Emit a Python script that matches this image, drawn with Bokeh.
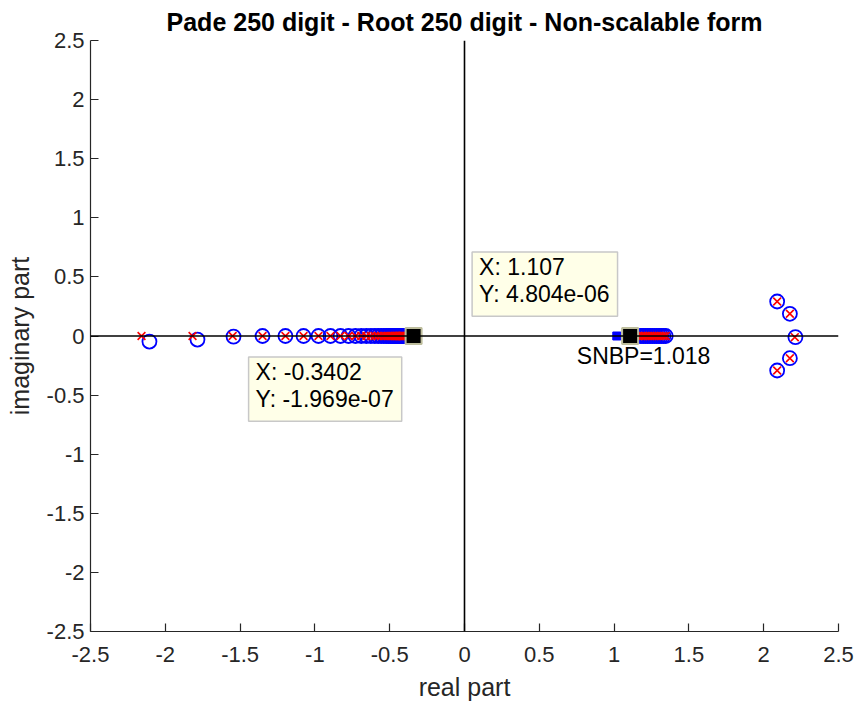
from bokeh.plotting import figure
from bokeh.models import Range1d, FixedTicker, Span, Label
from bokeh.embed import file_html
from bokeh.resources import INLINE

# ---- data ----
zero_re = [-2.106, -1.785, -1.544, -1.350, -1.197, -1.076, -0.976, -0.896, -0.829, -0.775,
           -0.729, -0.690, -0.656, -0.626, -0.600, -0.577, -0.557, -0.539, -0.523, -0.509,
           -0.496, -0.485, -0.475, -0.466, -0.458, -0.451, -0.445, -0.439, -0.434, -0.429,
           -0.425, -0.421, -0.417, -0.414, -0.411, -0.408,
           1.140, 1.160, 1.180, 1.195, 1.210, 1.225, 1.240, 1.255, 1.270, 1.285,
           1.300, 1.315, 1.330, 1.345,
           2.090, 2.175, 2.212, 2.175, 2.090]
zero_im = [-0.047, -0.030, -0.005, 0.000, 0.000, 0.000, 0.000, 0.000, 0.000, 0.000,
           0.000, 0.000, 0.000, 0.000, 0.000, 0.000, 0.000, 0.000, 0.000, 0.000,
           0.000, 0.000, 0.000, 0.000, 0.000, 0.000, 0.000, 0.000, 0.000, 0.000,
           0.000, 0.000, 0.000, 0.000, 0.000, 0.000,
           0.000, 0.000, 0.000, 0.000, 0.000, 0.000, 0.000, 0.000, 0.000, 0.000,
           0.000, 0.000, 0.000, 0.000,
           0.292, 0.188, -0.010, -0.188, -0.292]
pole_re = [-2.159, -1.818, -1.550, -1.350, -1.197, -1.076, -0.976, -0.896, -0.829, -0.775,
           -0.729, -0.690, -0.656, -0.626, -0.600, -0.577, -0.557, -0.539, -0.523, -0.509,
           -0.496, -0.485, -0.475, -0.466, -0.458, -0.451, -0.445, -0.439, -0.434, -0.429,
           -0.425, -0.421, -0.417, -0.414, -0.411, -0.408,
           1.140, 1.160, 1.180, 1.195, 1.210, 1.225, 1.240, 1.255, 1.270, 1.285,
           1.300, 1.315, 1.330, 1.345,
           2.090, 2.175, 2.208, 2.175, 2.090]
pole_im = [0.000, 0.000, 0.000, 0.000, 0.000, 0.000, 0.000, 0.000, 0.000, 0.000,
           0.000, 0.000, 0.000, 0.000, 0.000, 0.000, 0.000, 0.000, 0.000, 0.000,
           0.000, 0.000, 0.000, 0.000, 0.000, 0.000, 0.000, 0.000, 0.000, 0.000,
           0.000, 0.000, 0.000, 0.000, 0.000, 0.000,
           0.000, 0.000, 0.000, 0.000, 0.000, 0.000, 0.000, 0.000, 0.000, 0.000,
           0.000, 0.000, 0.000, 0.000,
           0.292, 0.188, -0.010, -0.188, -0.292]
snbp = 1.018
tip_x = [-0.3402, 1.107]
tip_y = [-1.969e-07, 4.804e-06]
tip_x_text = ["-0.3402", "1.107"]
tip_y_text = ["-1.969e-07", "4.804e-06"]

tick_values = [-2.5, -2.0, -1.5, -1.0, -0.5, 0.0, 0.5, 1.0, 1.5, 2.0, 2.5]
tick_labels = ["-2.5", "-2", "-1.5", "-1", "-0.5", "0", "0.5", "1", "1.5", "2", "2.5"]

title_text = "Pade 250 digit - Root 250 digit - Non-scalable form"
FONT = "Liberation Sans"
AX = "#262626"

p = figure(width=856, height=704, output_backend="svg", toolbar_location=None,
           x_range=Range1d(-2.5, 2.5), y_range=Range1d(-2.5, 2.5),
           min_border_left=90, min_border_right=18, min_border_top=40, min_border_bottom=73,
           title=title_text)
p.outline_line_color = None
p.background_fill_color = "white"
p.border_fill_color = "white"
p.grid.visible = False

p.title.align = "center"
p.title.vertical_align = "top"
p.title.text_font = FONT
p.title.text_font_size = "25px"
p.title.text_font_style = "bold"
p.title.text_color = "black"
p.title.standoff = 6

overrides = dict(zip(tick_values, tick_labels))
for ax in (p.xaxis[0], p.yaxis[0]):
    ax.ticker = FixedTicker(ticks=tick_values, minor_ticks=[])
    ax.major_label_overrides = overrides
    ax.major_tick_in = 8
    ax.major_tick_out = 0
    ax.minor_tick_in = 0
    ax.minor_tick_out = 0
    ax.axis_line_color = AX
    ax.axis_line_width = 1.2
    ax.major_tick_line_color = AX
    ax.major_tick_line_width = 1.2
    ax.major_label_text_font = FONT
    ax.major_label_text_font_size = "22px"
    ax.major_label_text_color = AX
    ax.axis_label_text_font = FONT
    ax.axis_label_text_font_size = "25px"
    ax.axis_label_text_font_style = "normal"
    ax.axis_label_text_color = AX

p.xaxis.axis_label = "real part"
p.yaxis.axis_label = "imaginary part"
p.xaxis.major_label_standoff = 15
p.yaxis.major_label_standoff = 6
p.xaxis.axis_label_standoff = 8
p.yaxis.axis_label_standoff = 10

# zero lines
p.add_layout(Span(location=0, dimension="width", line_color="black", line_width=1.6))
p.add_layout(Span(location=0, dimension="height", line_color="black", line_width=1.6))

# zeros (blue circles) and poles (red crosses)
p.scatter(zero_re, zero_im, marker="circle", size=14, fill_color=None,
          line_color="#0000FF", line_width=1.8)
p.scatter(pole_re, pole_im, marker="x", size=11, line_color="#FF0000", line_width=1.6)

# SNBP marker
p.scatter([snbp], [0.0], marker="square", size=8, fill_color="#0000FF", line_color="#0000FF")

# data tip markers
p.scatter(tip_x, tip_y, marker="square", size=16, fill_color="black",
          line_color="#BDBD9C", line_width=2)

p.add_layout(Label(x=snbp, y=0.0, x_offset=-40, y_offset=-7, text=f"SNBP={snbp}",
                   text_font=FONT, text_font_size="23px", text_color="black",
                   text_align="left", text_baseline="top"))

tip_offsets = [(-165, -21), (-158, 84)]
for xv, yv, xs, ys, (dx, dy) in zip(tip_x, tip_y, tip_x_text, tip_y_text, tip_offsets):
    p.add_layout(Label(x=xv, y=yv, x_offset=dx, y_offset=dy,
                       text=f"X: {xs}\nY: {ys}", anchor="top_left",
                       text_align="left", text_baseline="top",
                       text_font=FONT, text_font_size="23px", text_color="black",
                       text_line_height=1.05,
                       background_fill_color="#FFFFE8", border_line_color="#C8C8C8",
                       border_line_width=1.5, padding=(7, 8, 2, 9)))

open("out.html", "w").write(file_html(p, INLINE))
